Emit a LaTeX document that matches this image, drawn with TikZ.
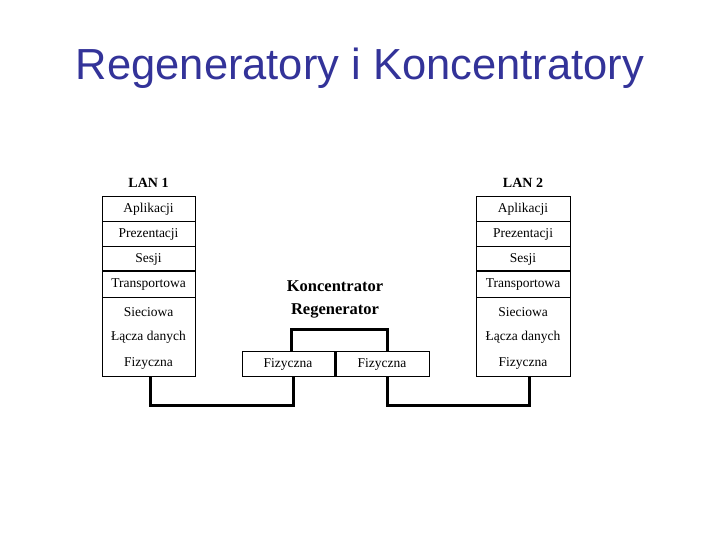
\documentclass[tikz,border=0pt]{standalone}
\usepackage{fontspec}
\setmainfont{Liberation Serif}
\newfontfamily\titlefont{Liberation Sans}
\usetikzlibrary{calc}
\definecolor{titleblue}{RGB}{51,51,153}
\tikzstyle{layer}=[font=\fontsize{13.5}{13.5}\selectfont]
\tikzstyle{cable}=[line width=3pt]

\begin{document}
\begin{tikzpicture}[x=1pt, y=-1pt]
    \useasboundingbox (0, 0) rectangle (720, 540);
    \node[font=\titlefont\fontsize{43.5}{43.5}\selectfont, text=titleblue] (title) at (360, 68) {Regeneratory i Koncentratory};

    % left stack
    \node[font=\bfseries\fontsize{14}{14}\selectfont] (lan1) at (148.5, 183) {LAN 1};
    \draw[thick] (102, 196) rectangle (195, 376);
    \draw (102, 221) -- (195, 221);
    \draw (102, 246) -- (195, 246);
    \draw[line width=1.5pt] (102, 271) -- (195, 271);
    \draw (102, 297) -- (195, 297);
    \node[layer] (apl1) at (148.5, 209) {Aplikacji};
    \node[layer] (pre1) at (148.5, 234) {Prezentacji};
    \node[layer] (ses1) at (148.5, 259) {Sesji};
    \node[layer] (tra1) at (148.5, 284.5) {Transportowa};
    \node[layer] (sie1) at (148.5, 312.5) {Sieciowa};
    \node[layer] (lac1) at (148.5, 337.5) {Łącza danych};
    \node[layer] (fiz1) at (148.5, 363.5) {Fizyczna};
    \coordinate (out1) at (150, 376);

    % right stack
    \node[font=\bfseries\fontsize{14}{14}\selectfont] (lan2) at (523, 183) {LAN 2};
    \draw[thick] (476, 196) rectangle (570, 376);
    \draw (476, 221) -- (570, 221);
    \draw (476, 246) -- (570, 246);
    \draw[line width=1.5pt] (476, 271) -- (570, 271);
    \draw (476, 297) -- (570, 297);
    \node[layer] (apl2) at (523, 209) {Aplikacji};
    \node[layer] (pre2) at (523, 234) {Prezentacji};
    \node[layer] (ses2) at (523, 259) {Sesji};
    \node[layer] (tra2) at (523, 284.5) {Transportowa};
    \node[layer] (sie2) at (523, 312.5) {Sieciowa};
    \node[layer] (lac2) at (523, 337.5) {Łącza danych};
    \node[layer] (fiz2) at (523, 363.5) {Fizyczna};
    \coordinate (out2) at (529, 376);

    % concentrator
    \node[font=\bfseries\fontsize{16.5}{16.5}\selectfont] (konc) at (335, 286) {Koncentrator};
    \node[font=\bfseries\fontsize{16.5}{16.5}\selectfont] (regen) at (335, 311) {Regenerator};
    \draw[thick] (242, 351) rectangle (429, 376);
    \draw[line width=3pt] (335, 351) -- (335, 376);
    \node[layer] (fizA) at (288, 364) {Fizyczna};
    \node[layer] (fizB) at (382, 364) {Fizyczna};
    \coordinate (inA) at (293, 376);
    \coordinate (inB) at (387, 376);
    \draw[cable] (291, 351) |- (387, 329) -- (387, 351);

    \draw[cable] (out1) |- ($(inA) + (0, 29)$) -- (inA);
    \draw[cable] (inB) |- ($(out2) + (0, 29)$) -- (out2);
\end{tikzpicture}
\end{document}
